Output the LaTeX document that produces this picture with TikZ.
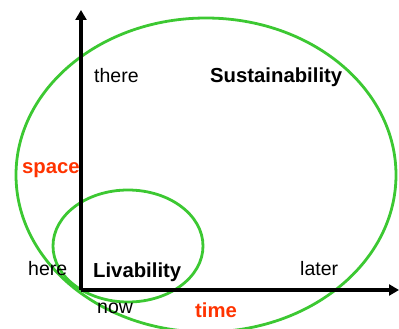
\documentclass[tikz,border=0pt]{standalone}
\usepackage{fontspec}
\setmainfont{Liberation Sans}
\usetikzlibrary{arrows.meta}
\definecolor{ringgreen}{RGB}{60,200,50}
\definecolor{axisred}{RGB}{255,51,0}
\tikzstyle{word} = [inner sep=0pt, anchor=base west, font=\fontsize{19.5}{22}\selectfont]
\tikzstyle{keyword} = [word, font=\fontsize{20.3}{23}\selectfont\bfseries]
\tikzstyle{axislabel} = [keyword, text=axisred]
\tikzstyle{ring} = [draw=ringgreen, line width=2.8pt]
\tikzstyle{axis} = [line width=3.2pt, -{Triangle[length=10pt,width=11pt]}]

\begin{document}
\begin{tikzpicture}[x=1pt, y=-1pt]
\useasboundingbox (0,0) rectangle (399,329);
% circles
\draw [ring] (206,175) ellipse (190 and 157);
\draw [ring] (128,246) ellipse (75 and 56);
% axes
\coordinate (orig) at (81,290);
\coordinate (ytip) at (81,10);
\coordinate (xtip) at (399,290);
\draw [axis] (orig) -- (ytip);
\draw [axis] (orig) -- (xtip);
% labels
\node (there) [word] at (94,82) {there};
\node (sust) [keyword] at (210,82) {Sustainability};
\node (space) [axislabel] at (22,173) {space};
\node (here) [word] at (28,275) {here};
\node (liv) [keyword] at (93,277) {Livability};
\node (later) [word] at (300,275) {later};
\node (now) [word] at (97,313) {now};
\node (time) [axislabel] at (195,317) {time};
\end{tikzpicture}
\end{document}
